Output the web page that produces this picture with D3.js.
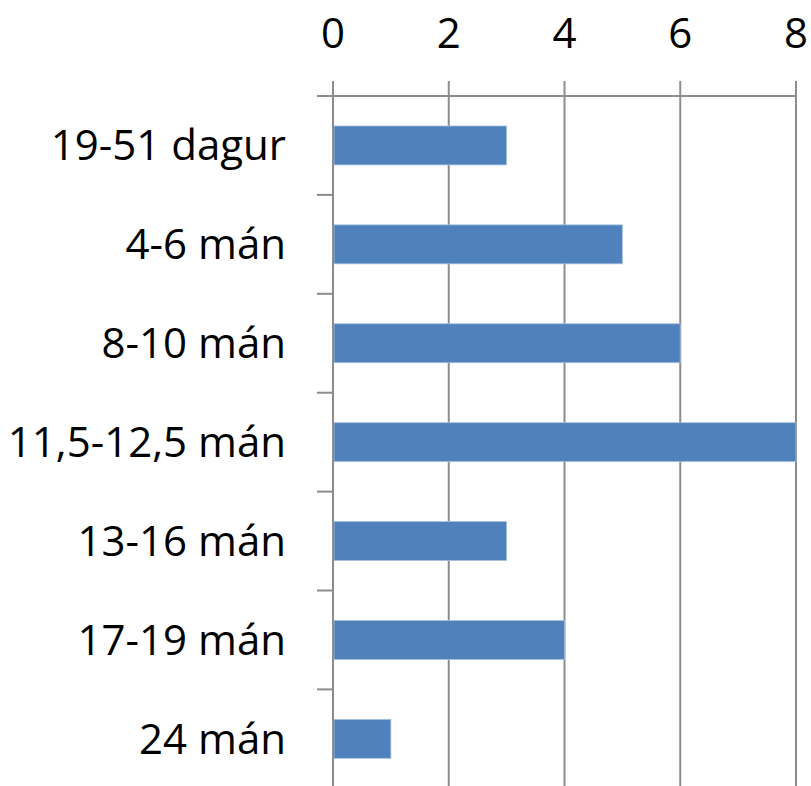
<!DOCTYPE html>
<html><head><meta charset="utf-8">
<script src="https://cdn.jsdelivr.net/npm/d3@7"></script>
<style>html,body{margin:0;padding:0;background:#fff;}svg{display:block;}</style>
</head><body>
<script>
const categories = ["19-51 dagur","4-6 mán","8-10 mán","11,5-12,5 mán","13-16 mán","17-19 mán","24 mán"];
const values = [3,5,6,8,3,4,1];
const tickValues = [0,2,4,6,8];

const W = 811, H = 786;
const svg = d3.select("body").append("svg").attr("width", W).attr("height", H);
const font = "'Open Sans', sans-serif";

const x = d3.scaleLinear().domain([0, 8]).range([333, 796]);
const y = d3.scaleBand().domain(categories).range([96, 96 + 7 * 98.9]).padding(0);
const step = y.step();
const gridColor = "#8c8c8c";

// vertical gridlines (extend above axis as tick marks)
svg.append("g").selectAll("line").data(tickValues).join("line")
  .attr("x1", d => x(d)).attr("x2", d => x(d))
  .attr("y1", 81).attr("y2", H)
  .attr("stroke", gridColor).attr("stroke-width", 2);

// top axis line
svg.append("line").attr("x1", 317).attr("x2", x(8)).attr("y1", 96).attr("y2", 96)
  .attr("stroke", gridColor).attr("stroke-width", 2);

// left category tick marks at band boundaries
const bounds = categories.map(c => y(c)).concat([y(categories[categories.length-1]) + step]);
svg.append("g").selectAll("line").data(bounds).join("line")
  .attr("x1", 317).attr("x2", 333).attr("y1", d => d).attr("y2", d => d)
  .attr("stroke", gridColor).attr("stroke-width", 2);

// bars
svg.append("g").selectAll("rect").data(values).join("rect")
  .attr("x", x(0) + 1)
  .attr("y", (d, i) => y(categories[i]) + step * 0.303)
  .attr("width", d => x(d) - x(0) - 1)
  .attr("height", step * 0.394)
  .attr("fill", "#4F81BD")
  .attr("stroke", "#a9c1e0").attr("stroke-width", 0.8);

// left axis line
svg.append("line").attr("x1", 333).attr("x2", 333).attr("y1", 96).attr("y2", H)
  .attr("stroke", gridColor).attr("stroke-width", 2);

// tick labels
svg.append("g").selectAll("text").data(tickValues).join("text")
  .attr("x", d => x(d)).attr("y", 48)
  .attr("text-anchor", "middle")
  .attr("font-family", font).attr("font-size", 42)
  .attr("fill", "#000").text(d => d);

// category labels
svg.append("g").selectAll("text").data(categories).join("text")
  .attr("x", 286).attr("y", d => y(d) + step / 2)
  .attr("dy", "0.35em")
  .attr("text-anchor", "end")
  .attr("font-family", font).attr("font-size", 42)
  .attr("fill", "#000").text(d => d);
</script>
</body></html>
